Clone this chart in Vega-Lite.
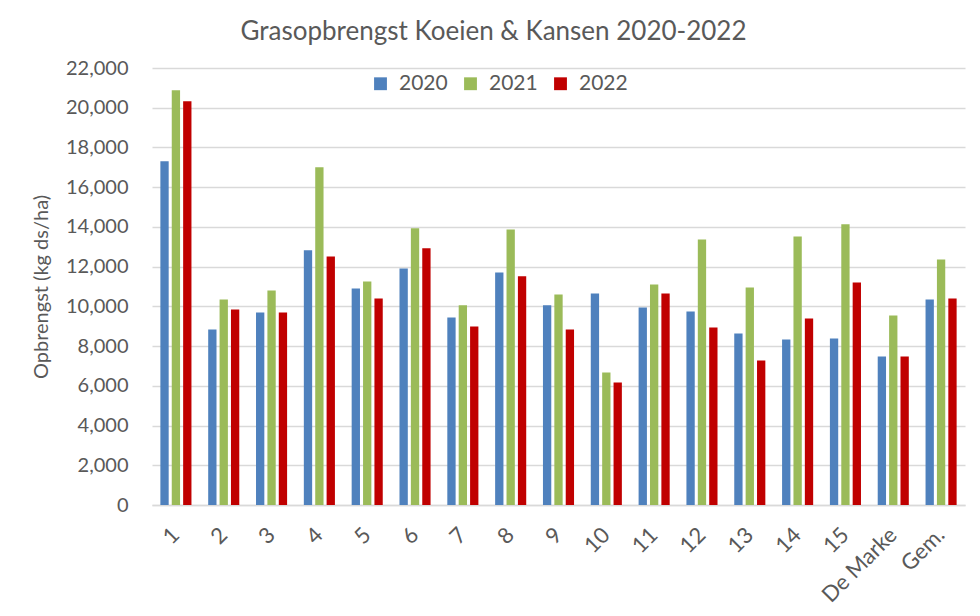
{
  "$schema": "https://vega.github.io/schema/vega-lite/v6.json",
  "autosize": "none",
  "width": 813,
  "height": 437,
  "padding": {"left": 152, "top": 68, "right": 15, "bottom": 111},
  "background": "white",
  "config": {"font": "Lato", "view": {"stroke": null}},
  "title": {
    "text": "Grasopbrengst Koeien & Kansen 2020-2022",
    "fontSize": 26,
    "fontWeight": "normal",
    "color": "#595959",
    "anchor": "middle",
    "frame": "group",
    "dx": -65,
    "offset": 13,
    "limit": 0
  },
  "data": {
    "values": [
      {"perceel": "1", "jaar": "2020", "opbrengst": 17300},
      {"perceel": "1", "jaar": "2021", "opbrengst": 20880},
      {"perceel": "1", "jaar": "2022", "opbrengst": 20320},
      {"perceel": "2", "jaar": "2020", "opbrengst": 8840},
      {"perceel": "2", "jaar": "2021", "opbrengst": 10350},
      {"perceel": "2", "jaar": "2022", "opbrengst": 9840},
      {"perceel": "3", "jaar": "2020", "opbrengst": 9690},
      {"perceel": "3", "jaar": "2021", "opbrengst": 10800},
      {"perceel": "3", "jaar": "2022", "opbrengst": 9690},
      {"perceel": "4", "jaar": "2020", "opbrengst": 12820},
      {"perceel": "4", "jaar": "2021", "opbrengst": 17000},
      {"perceel": "4", "jaar": "2022", "opbrengst": 12510},
      {"perceel": "5", "jaar": "2020", "opbrengst": 10900},
      {"perceel": "5", "jaar": "2021", "opbrengst": 11250},
      {"perceel": "5", "jaar": "2022", "opbrengst": 10400},
      {"perceel": "6", "jaar": "2020", "opbrengst": 11910},
      {"perceel": "6", "jaar": "2021", "opbrengst": 13930},
      {"perceel": "6", "jaar": "2022", "opbrengst": 12920},
      {"perceel": "7", "jaar": "2020", "opbrengst": 9440},
      {"perceel": "7", "jaar": "2021", "opbrengst": 10050},
      {"perceel": "7", "jaar": "2022", "opbrengst": 8990},
      {"perceel": "8", "jaar": "2020", "opbrengst": 11710},
      {"perceel": "8", "jaar": "2021", "opbrengst": 13870},
      {"perceel": "8", "jaar": "2022", "opbrengst": 11510},
      {"perceel": "9", "jaar": "2020", "opbrengst": 10050},
      {"perceel": "9", "jaar": "2021", "opbrengst": 10600},
      {"perceel": "9", "jaar": "2022", "opbrengst": 8840},
      {"perceel": "10", "jaar": "2020", "opbrengst": 10650},
      {"perceel": "10", "jaar": "2021", "opbrengst": 6670},
      {"perceel": "10", "jaar": "2022", "opbrengst": 6170},
      {"perceel": "11", "jaar": "2020", "opbrengst": 9940},
      {"perceel": "11", "jaar": "2021", "opbrengst": 11100},
      {"perceel": "11", "jaar": "2022", "opbrengst": 10650},
      {"perceel": "12", "jaar": "2020", "opbrengst": 9740},
      {"perceel": "12", "jaar": "2021", "opbrengst": 13370},
      {"perceel": "12", "jaar": "2022", "opbrengst": 8940},
      {"perceel": "13", "jaar": "2020", "opbrengst": 8640},
      {"perceel": "13", "jaar": "2021", "opbrengst": 10950},
      {"perceel": "13", "jaar": "2022", "opbrengst": 7270},
      {"perceel": "14", "jaar": "2020", "opbrengst": 8330},
      {"perceel": "14", "jaar": "2021", "opbrengst": 13520},
      {"perceel": "14", "jaar": "2022", "opbrengst": 9390},
      {"perceel": "15", "jaar": "2020", "opbrengst": 8380},
      {"perceel": "15", "jaar": "2021", "opbrengst": 14130},
      {"perceel": "15", "jaar": "2022", "opbrengst": 11200},
      {"perceel": "De Marke", "jaar": "2020", "opbrengst": 7480},
      {"perceel": "De Marke", "jaar": "2021", "opbrengst": 9540},
      {"perceel": "De Marke", "jaar": "2022", "opbrengst": 7480},
      {"perceel": "Gem.", "jaar": "2020", "opbrengst": 10350},
      {"perceel": "Gem.", "jaar": "2021", "opbrengst": 12360},
      {"perceel": "Gem.", "jaar": "2022", "opbrengst": 10400}
    ]
  },
  "mark": {"type": "bar"},
  "encoding": {
    "x": {
      "field": "perceel",
      "type": "nominal",
      "sort": null,
      "scale": {"paddingInner": 0.35, "paddingOuter": 0.175},
      "axis": {
        "title": null,
        "labelAngle": -45,
        "labelAlign": "right",
        "labelBaseline": "middle",
        "labelFontSize": 22,
        "labelColor": "#595959",
        "labelPadding": 26,
        "ticks": false,
        "domainColor": "#d9d9d9",
        "domainWidth": 1.5,
        "grid": false
      }
    },
    "xOffset": {
      "field": "jaar",
      "type": "nominal",
      "scale": {"paddingInner": 0.27, "paddingOuter": 0}
    },
    "y": {
      "field": "opbrengst",
      "type": "quantitative",
      "scale": {"domain": [0, 22000], "nice": false},
      "axis": {
        "title": "Opbrengst (kg ds/ha)",
        "titleFontSize": 20,
        "titleFontWeight": "normal",
        "titleColor": "#595959",
        "titlePadding": 14,
        "values": [0, 2000, 4000, 6000, 8000, 10000, 12000, 14000, 16000, 18000, 20000, 22000],
        "format": ",d",
        "labelFontSize": 20,
        "labelColor": "#595959",
        "labelPadding": 24,
        "ticks": false,
        "domain": false,
        "gridColor": "#d9d9d9",
        "gridWidth": 1.5
      }
    },
    "color": {
      "field": "jaar",
      "type": "nominal",
      "scale": {"domain": ["2020", "2021", "2022"], "range": ["#4f81bd", "#9bbb59", "#c00000"]},
      "legend": {
        "title": null,
        "orient": "none",
        "direction": "horizontal",
        "legendX": 218,
        "legendY": 5,
        "symbolType": "square",
        "symbolSize": 165,
        "symbolStrokeWidth": 0,
        "labelFontSize": 21,
        "labelColor": "#595959",
        "columnPadding": 12,
        "labelOffset": 8
      }
    }
  }
}
